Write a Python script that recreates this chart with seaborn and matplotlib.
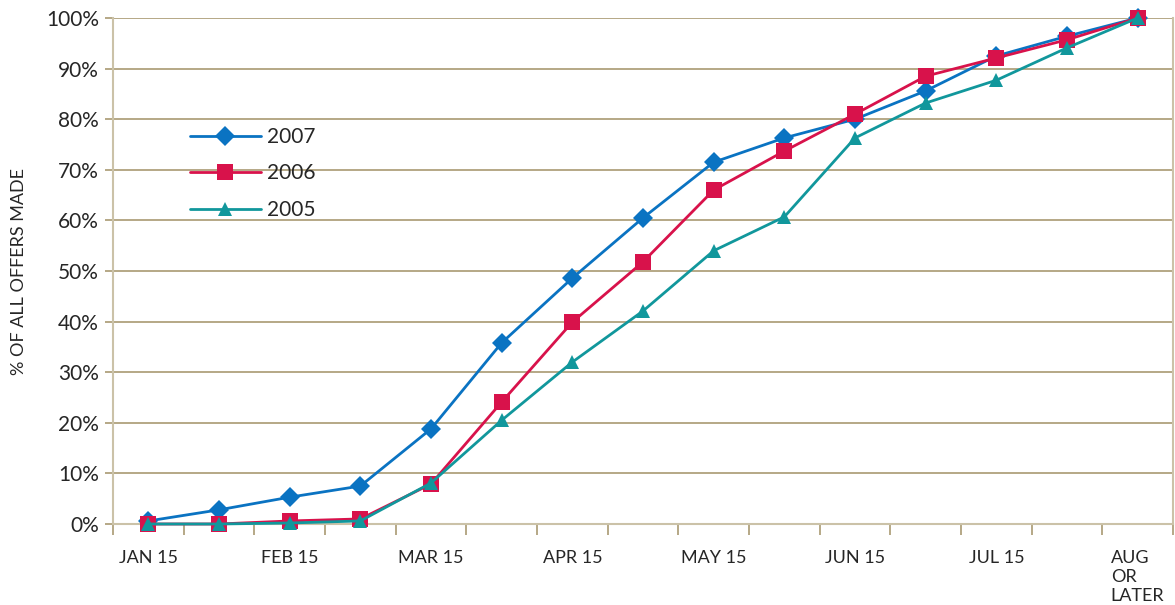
import matplotlib
matplotlib.use("Agg")
import matplotlib.pyplot as plt
import seaborn as sns
import pandas as pd
import numpy as np
from matplotlib.ticker import FixedLocator, FuncFormatter

periods = ["JAN 15", "FEB 1", "FEB 15", "MAR 1", "MAR 15", "APR 1", "APR 15", "MAY 1",
           "MAY 15", "JUN 1", "JUN 15", "JUL 1", "JUL 15", "AUG 1", "AUG\nOR\nLATER"]
tick_labels = ["JAN 15", "FEB 15", "MAR 15", "APR 15", "MAY 15", "JUN 15", "JUL 15", "AUG\nOR\nLATER"]
years = ["2007", "2006", "2005"]
v2007 = [0.6, 2.8, 5.3, 7.5, 18.8, 35.8, 48.6, 60.5, 71.5, 76.3, 80.0, 85.6, 92.5, 96.4, 100.0]
v2006 = [0.0, 0.0, 0.6, 1.0, 7.9, 24.1, 39.9, 51.8, 66.0, 73.7, 81.0, 88.5, 92.1, 95.7, 100.0]
v2005 = [0.0, 0.0, 0.2, 0.6, 8.1, 20.5, 32.0, 42.1, 54.0, 60.7, 76.3, 83.2, 87.7, 94.1, 100.0]

rows = []
for y, vals in zip(years, [v2007, v2006, v2005]):
    for i, v in enumerate(vals):
        rows.append({"pos": i, "period": periods[i], "year": y, "pct": v})
df = pd.DataFrame(rows)

sns.set_theme(style="white")
plt.rcParams['font.family'] = ['Lato', 'DejaVu Sans']

palette = {"2007": "#0A73C2", "2006": "#D8124B", "2005": "#11979C"}
markers = {"2007": "D", "2006": "s", "2005": "^"}
sizes = {"2007": 10, "2006": 11.5, "2005": 10}

fig = plt.figure(figsize=(11.75, 6.05), dpi=100)
ax = fig.add_axes([113/1175, 1 - 524/605, (1173-113)/1175, (524-18)/605])

grid_c = "#A99A72"
for yv in range(10, 101, 10):
    ax.axhline(yv, color=grid_c, lw=1.2, zorder=0)

for y in years:
    sub = df[df["year"] == y]
    sns.lineplot(data=sub, x="pos", y="pct", ax=ax, color=palette[y], marker=markers[y],
                 markersize=sizes[y], markeredgewidth=0, linewidth=2.0, label=y,
                 clip_on=False, zorder=3)

ax.set_xlim(-0.5, 14.5)
ax.set_ylim(0, 100)
ax.set_xlabel("")
ax.set_ylabel("% OF ALL OFFERS MADE", fontsize=13, labelpad=14)

ax.xaxis.set_major_locator(FixedLocator(list(range(0, 15, 2))))
ax.set_xticklabels(tick_labels, fontsize=13, linespacing=1.2, va="top", ha="center",
                   multialignment="left")
ax.xaxis.set_minor_locator(FixedLocator([i + 0.5 for i in range(-1, 15)]))
ax.tick_params(axis="x", which="major", length=0, pad=19)
ax.tick_params(axis="x", which="minor", length=8, width=1.2, color=grid_c, bottom=True)

ax.set_yticks(range(0, 101, 10))
ax.yaxis.set_major_formatter(FuncFormatter(lambda v, p: f"{int(v)}%"))
ax.tick_params(axis="y", which="major", length=6, width=1.2, color=grid_c, labelsize=15, pad=4, left=True)

for s in ["left", "bottom", "right"]:
    ax.spines[s].set_visible(True)
    ax.spines[s].set_color("#CBC2A8")
    ax.spines[s].set_linewidth(1.5)
ax.spines["top"].set_visible(False)

leg = ax.legend(loc="upper left", bbox_to_anchor=(0.055, 0.822), frameon=False,
                fontsize=15, handlelength=3.4, labelspacing=0.8, handletextpad=0.3)

fig.savefig("out.png", dpi=100)
